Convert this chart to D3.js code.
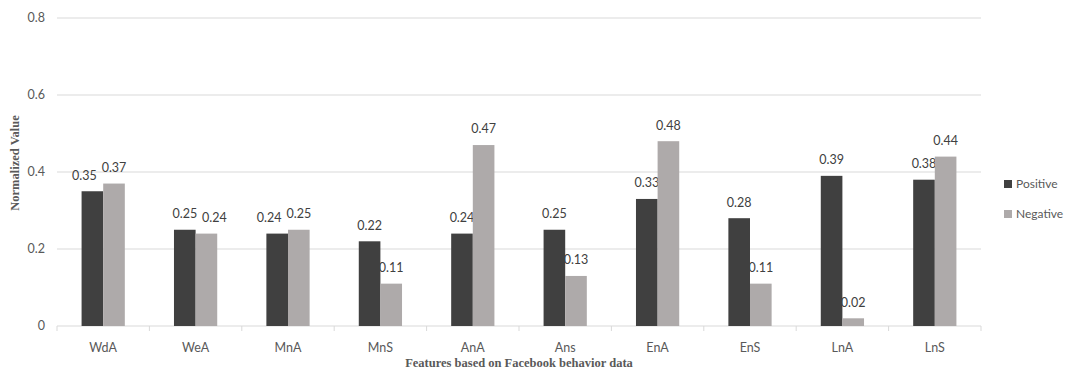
<!DOCTYPE html>
<html><head><meta charset="utf-8">
<script src="https://cdn.jsdelivr.net/npm/d3@7"></script>
<style>body{margin:0;background:#fff}</style>
</head><body>
<svg id="c" width="1069" height="379"></svg>
<script>
const categories = ["WdA","WeA","MnA","MnS","AnA","Ans","EnA","EnS","LnA","LnS"];
const positive = [0.35,0.25,0.24,0.22,0.24,0.25,0.33,0.28,0.39,0.38];
const negative = [0.37,0.24,0.25,0.11,0.47,0.13,0.48,0.11,0.02,0.44];
const seriesNames = ["Positive","Negative"];
const yTicks = [0,0.2,0.4,0.6,0.8];
const colors = ["#404040","#aeaaaa"];

const svg = d3.select("#c");
const plotLeft = 57, plotRight = 981, plotTop = 18, plotBottom = 326;
const x = d3.scaleBand().domain(categories).range([plotLeft,plotRight]).paddingInner(0).paddingOuter(0);
const y = d3.scaleLinear().domain([0,0.8]).range([plotBottom,plotTop]);
const bw = x.bandwidth()*0.234;
const font = "Lato, 'Open Sans', sans-serif";

// gridlines
svg.append("g").selectAll("line").data(yTicks).join("line")
  .attr("x1",plotLeft).attr("x2",plotRight)
  .attr("y1",d=>y(d)).attr("y2",d=>y(d))
  .attr("stroke","#d9d9d9").attr("stroke-width",1);

// y tick labels
svg.append("g").selectAll("text").data(yTicks).join("text")
  .attr("x",45).attr("y",d=>y(d)).attr("dy","0.35em")
  .attr("text-anchor","end").attr("font-family",font).attr("font-size",12.5)
  .attr("fill","#595959").text(d=>d===0?"0":d.toFixed(1));

// x axis ticks
const boundaries = categories.map(c=>x(c)).concat([plotRight]);
svg.append("g").selectAll("line").data(boundaries).join("line")
  .attr("x1",d=>d).attr("x2",d=>d).attr("y1",plotBottom).attr("y2",plotBottom+5)
  .attr("stroke","#d9d9d9");

// x labels
svg.append("g").selectAll("text").data(categories).join("text")
  .attr("x",d=>x(d)+x.bandwidth()/2).attr("y",348).attr("dy","0.35em")
  .attr("text-anchor","middle").attr("font-family",font).attr("font-size",12.5)
  .attr("fill","#595959").text(d=>d);

const series = [positive, negative];
series.forEach((vals,si)=>{
  const other = series[1-si];
  const g = svg.append("g");
  g.selectAll("rect").data(vals).join("rect")
    .attr("x",(d,i)=>x(categories[i])+x.bandwidth()/2 + (si===0?-bw:0))
    .attr("width",bw)
    .attr("y",d=>y(d)).attr("height",d=>plotBottom-y(d))
    .attr("fill",colors[si]);
  g.selectAll("text").data(vals).join("text")
    .attr("x",(d,i)=>{
      let cx = x(categories[i])+x.bandwidth()/2 + (si===0?-bw/2:bw/2);
      const dy = y(d)-y(other[i]);
      // Excel-like nudge: the lower label moves outward if labels collide
      if (dy>0 && dy<12) cx += (si===0?-8:8);
      return cx;
    })
    .attr("y",d=>y(d)-16).attr("dy","0.35em")
    .attr("text-anchor","middle").attr("font-family",font).attr("font-size",12.5)
    .attr("fill","#404040").text(d=>d.toFixed(2));
});

// legend
seriesNames.forEach((n,i)=>{
  const ly = 184 + i*30;
  svg.append("rect").attr("x",1004).attr("y",ly-4).attr("width",8).attr("height",8).attr("fill",colors[i]);
  svg.append("text").attr("x",1016).attr("y",ly).attr("dy","0.35em")
    .attr("font-family",font).attr("font-size",12).attr("fill","#595959").text(n);
});

// axis titles
svg.append("text").attr("transform","translate(15,163) rotate(-90)")
  .attr("text-anchor","middle").attr("dy","0.35em")
  .attr("font-family","'Liberation Serif', serif").attr("font-weight","bold")
  .attr("font-size",12.5).attr("fill","#595959").text("Normalized Value");
svg.append("text").attr("x",(plotLeft+plotRight)/2).attr("y",363).attr("dy","0.35em")
  .attr("text-anchor","middle")
  .attr("font-family","'Liberation Serif', serif").attr("font-weight","bold")
  .attr("font-size",12.5).attr("fill","#595959").text("Features based on Facebook behavior data");
</script>
</body></html>
